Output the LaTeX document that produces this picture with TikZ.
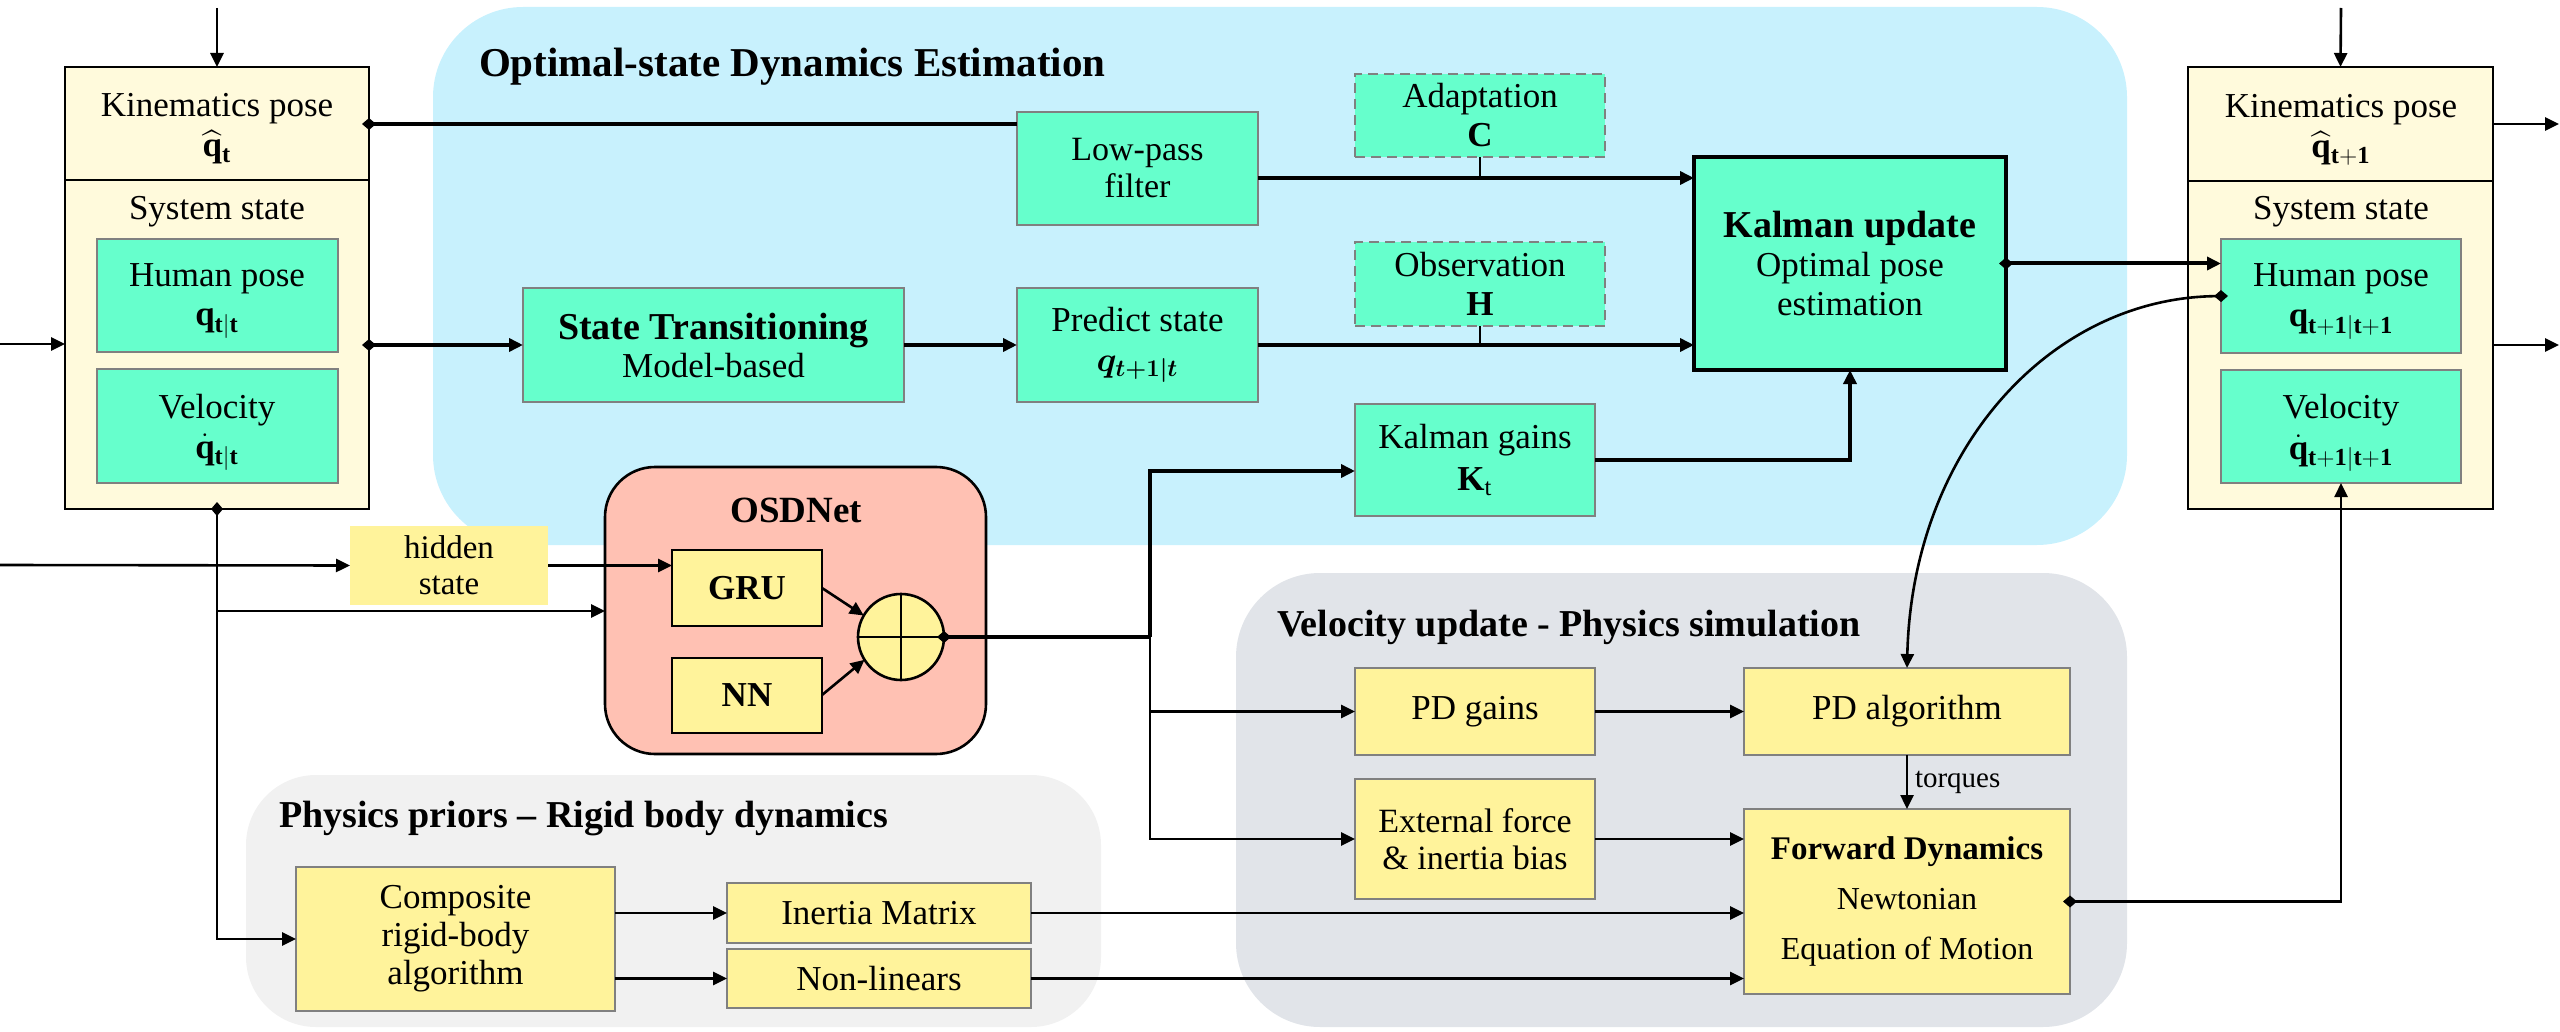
\documentclass[tikz,border=0pt]{standalone}
\usepackage{amsmath}
\usepackage{fontspec}
\setmainfont{Liberation Serif}
\usetikzlibrary{arrows.meta,calc}

\definecolor{bluebg}{HTML}{C8F1FD}
\definecolor{mint}{HTML}{66FFCC}
\definecolor{paley}{HTML}{FFFADC}
\definecolor{yel}{HTML}{FFF39B}
\definecolor{salmon}{HTML}{FFC1B3}
\definecolor{grayA}{HTML}{F1F1F1}
\definecolor{grayB}{HTML}{E1E4E9}
\definecolor{bord}{HTML}{808080}

\newcommand\fs[2]{\fontsize{#1}{#2}\selectfont}
\newcommand\mkbox[7]{\node[#2, minimum width={(#5-#3)*0.5pt}, minimum height={(#6-#4)*0.5pt}] (#1) at ({(#3+#5)/2},{(#4+#6)/2}) {#7};}

\tikzset{
  every node/.style={font=\fs{17.5}{21}, inner sep=0pt, outer sep=0pt, align=center},
  mintbox/.style={draw=bord, fill=mint, line width=1.2pt},
  dashbox/.style={draw=bord, fill=mint, line width=1.2pt, dash pattern=on 5pt off 3pt},
  yelbox/.style={draw=bord, fill=yel, line width=1.2pt},
  outerbox/.style={draw=black, fill=paley, line width=1.3pt},
  kalbox/.style={draw=black, fill=mint, line width=1.6pt},
  gbox/.style={draw=black, fill=yel, line width=1.3pt},
  regn/.style={draw=none, rounded corners=#1},
  thk/.style={line width=2pt},
  med/.style={line width=1.3pt},
  arr/.style={-{Triangle[length=7pt,width=6.5pt]}},
  darr/.style={{Diamond[length=7pt,width=6pt]}-{Triangle[length=7pt,width=6.5pt]}},
  dline/.style={{Diamond[length=7pt,width=6pt]}-},
  ttl/.style={anchor=base west, font=\bfseries\fs{19}{22}},
  bl/.style={anchor=base}
}

\begin{document}
\begin{tikzpicture}[x=0.5pt,y=-0.5pt]
\useasboundingbox (0,0) rectangle (2560,1032);

% ---------- regions ----------
\mkbox{blueR}{regn=45pt, fill=bluebg}{433}{7}{2127}{545}{}
\mkbox{physR}{regn=35pt, fill=grayA}{246}{775}{1101}{1027}{}
\mkbox{velR}{regn=42pt, fill=grayB}{1236}{573}{2127}{1027}{}

\node[ttl, font=\bfseries\fs{20.5}{24}] (t1) at (479,77) {Optimal-state Dynamics Estimation};
\node[ttl] (t2) at (279,827) {Physics priors – Rigid body dynamics};
\node[ttl] (t3) at (1277,636) {Velocity update - Physics simulation};

% ---------- left state box ----------
\mkbox{L}{outerbox}{65}{67}{369}{509}{}
\draw[med] (L.west |- 0,180) -- (L.east |- 0,180);
\node[bl] (Lkin) at (217,117) {Kinematics pose};
\node[bl] (Lkinq) at (217,157) {$\widehat{\mathbf{q}}_{\mathbf{t}}$};
\node[bl] (Lsys) at (217,220) {System state};
\mkbox{Lhp}{mintbox}{97}{239}{338}{352}{}
\node[bl] (Lhpt) at (217,287) {Human pose};
\node[bl] (Lhpq) at (217,326) {$\mathbf{q}_{\mathbf{t|t}}$};
\mkbox{Lvel}{mintbox}{97}{369}{338}{483}{}
\node[bl] (Lvelt) at (217,418) {Velocity};
\node[bl] (Lvelq) at (217,458) {$\dot{\mathbf{q}}_{\mathbf{t|t}}$};

% ---------- right state box ----------
\mkbox{R}{outerbox}{2188}{67}{2493}{509}{}
\draw[med] (R.west |- 0,181) -- (R.east |- 0,181);
\node[bl] (Rkin) at (2341,118) {Kinematics pose};
\node[bl] (Rkinq) at (2341,158) {$\widehat{\mathbf{q}}_{\mathbf{t+1}}$};
\node[bl] (Rsys) at (2341,220) {System state};
\mkbox{Rhp}{mintbox}{2221}{239}{2461}{353}{}
\node[bl] (Rhpt) at (2341,287) {Human pose};
\node[bl] (Rhpq) at (2341,327) {$\mathbf{q}_{\mathbf{t+1|t+1}}$};
\mkbox{Rvel}{mintbox}{2221}{370}{2461}{483}{}
\node[bl] (Rvelt) at (2341,418) {Velocity};
\node[bl] (Rvelq) at (2341,459) {$\dot{\mathbf{q}}_{\mathbf{t+1|t+1}}$};

% ---------- estimation ----------
\mkbox{LP}{mintbox, font=\fs{17}{18.5}}{1017}{112}{1258}{225}{Low-pass\\filter}
\mkbox{ST}{mintbox, font=\fs{17.5}{19}}{523}{288}{904}{402}{{\bfseries\fs{19}{19}State Transitioning}\\Model-based}
\mkbox{PS}{mintbox, font=\fs{17.5}{20}}{1017}{288}{1258}{402}{Predict state\\$\boldsymbol{q_{t+1|t}}$}
\mkbox{AD}{dashbox, font=\fs{17.5}{19.5}}{1355}{74}{1605}{157}{Adaptation\\$\mathbf{C}$}
\mkbox{OB}{dashbox, font=\fs{17.5}{19.5}}{1355}{242}{1605}{326}{Observation\\$\mathbf{H}$}
\mkbox{KU}{kalbox, font=\fs{17.5}{19.5}}{1694}{157}{2006}{370}{{\bfseries\fs{19}{19.5}Kalman update}\\Optimal pose\\estimation}
\mkbox{KG}{mintbox, font=\fs{17.5}{20}}{1355}{404}{1595}{516}{Kalman gains\\[1pt]$\mathbf{K}_{\mathrm{t}}$}

% ---------- OSDNet ----------
\mkbox{OSD}{draw=black, fill=salmon, line width=1.3pt, rounded corners=25pt}{605}{467}{986}{754}{}
\node[anchor=base, font=\bfseries\fs{18.5}{22}] (osdt) at (796,522) {OSDNet};
\mkbox{GRU}{gbox}{672}{550}{822}{626}{\textbf{GRU}}
\mkbox{NN}{gbox}{672}{658}{822}{733}{\textbf{NN}}
\node[circle, draw=black, fill=yel, line width=1.3pt, minimum size=43pt] (sum) at (901,637) {};
\draw[med] (sum.north) -- (sum.south);
\draw[med] (sum.west) -- (sum.east);

\mkbox{HS}{fill=yel, font=\fs{16.5}{18}}{350}{526}{548}{605}{hidden\\state}

% ---------- physics priors ----------
\mkbox{CR}{yelbox, font=\fs{17.5}{19}}{296}{867}{615}{1011}{Composite\\rigid-body\\algorithm}
\mkbox{IM}{yelbox}{727}{883}{1031}{943}{Inertia Matrix}
\mkbox{NL}{yelbox}{727}{949}{1031}{1008}{Non-linears}

% ---------- velocity update ----------
\mkbox{PDG}{yelbox}{1355}{668}{1595}{755}{PD gains}
\mkbox{PDA}{yelbox}{1744}{668}{2070}{755}{PD algorithm}
\mkbox{EF}{yelbox, font=\fs{17}{18.5}}{1355}{779}{1595}{899}{External force\\\& inertia bias}
\mkbox{FD}{yelbox, font=\fs{16}{25}}{1744}{809}{2070}{994}{{\bfseries\fs{16.5}{25}Forward Dynamics}\\Newtonian\\Equation of Motion}

% ---------- free ends ----------
\coordinate (Lin) at (217,8);
\coordinate (Lin2) at (0,344);
\coordinate (Hin) at (0,565);
\coordinate (Rin) at (2341,8);
\coordinate (Rout1) at (2559,124);
\coordinate (Rout2) at (2559,345);
\coordinate (J) at (1150,637);
\coordinate (KGc) at (1850,460);

% ---------- connectors ----------
\draw[med,arr] (Lin) -- (L.north);
\draw[med,arr] (Lin2) -- (L.west |- Lin2);
\draw[thk,dline] ($(L.east |- 0,124)+(-7,0)$) -- (LP.west |- 0,124);
\draw[thk,darr] ($(L.east |- ST.west)+(-7,0)$) -- (ST.west);
\draw[thk,arr] (ST.east) -- (PS.west);
\draw[thk,arr] (LP.east |- 0,178) -- (KU.west |- 0,178);
\draw[thk,arr] (PS.east) -- (KU.west |- PS.east);
\draw[med] (AD.south) -- (AD.south |- 0,178);
\draw[med] (OB.south) -- (OB.south |- PS.east);
\draw[thk,arr] (KG.east |- KGc) -- (KGc) -- (KU.south);
\draw[thk,darr] ($(KU.east)+(-7,0)$) -- (Rhp.west |- KU.east);
\draw[med,darr] ($(Rhp.west)+(7,0)$) .. controls (2050,298) and (1912,450) .. (PDA.north);
\draw[med,arr] (PDA.south) -- node[anchor=west, xshift=4pt, font=\fs{14.5}{16}] (tq) {torques} (FD.north);
\draw[med,darr] ($(FD.east)+(-7,0)$) -| (Rvel.south);
\draw[med,arr] (Rin) -- (R.north);
\draw[med,arr] (R.east |- Rout1) -- (Rout1);
\draw[med,arr] (R.east |- Rout2) -- (Rout2);

\draw[med,darr] ($(L.south)+(0,-7)$) |- (CR.west);
\draw[med,arr] (L.south |- 0,611) -- (OSD.west |- 0,611);
\draw[med,arr] (Hin) -- (HS.west);
\draw[med,arr] (HS.east) -- (GRU.west |- HS.east);
\draw[med,arr] (GRU.east |- 0,588) -- (sum.150);
\draw[med,arr] (NN.east |- 0,695) -- (sum.212);

\draw[thk,dline] ($(sum.east)+(-7,0)$) -- (J);
\draw[thk,arr] (J) |- (KG.west |- 0,471);
\draw[med,arr] (J) |- (PDG.west);
\draw[med,arr] (J) |- (EF.west);

\draw[med,arr] (CR.east |- IM.west) -- (IM.west);
\draw[med,arr] (CR.east |- NL.west) -- (NL.west);
\draw[med,arr] (IM.east) -- (FD.west |- IM.east);
\draw[med,arr] (NL.east) -- (FD.west |- NL.east);
\draw[med,arr] (EF.east) -- (FD.west |- EF.east);
\draw[med,arr] (PDG.east) -- (PDA.west);
\end{tikzpicture}
\end{document}
